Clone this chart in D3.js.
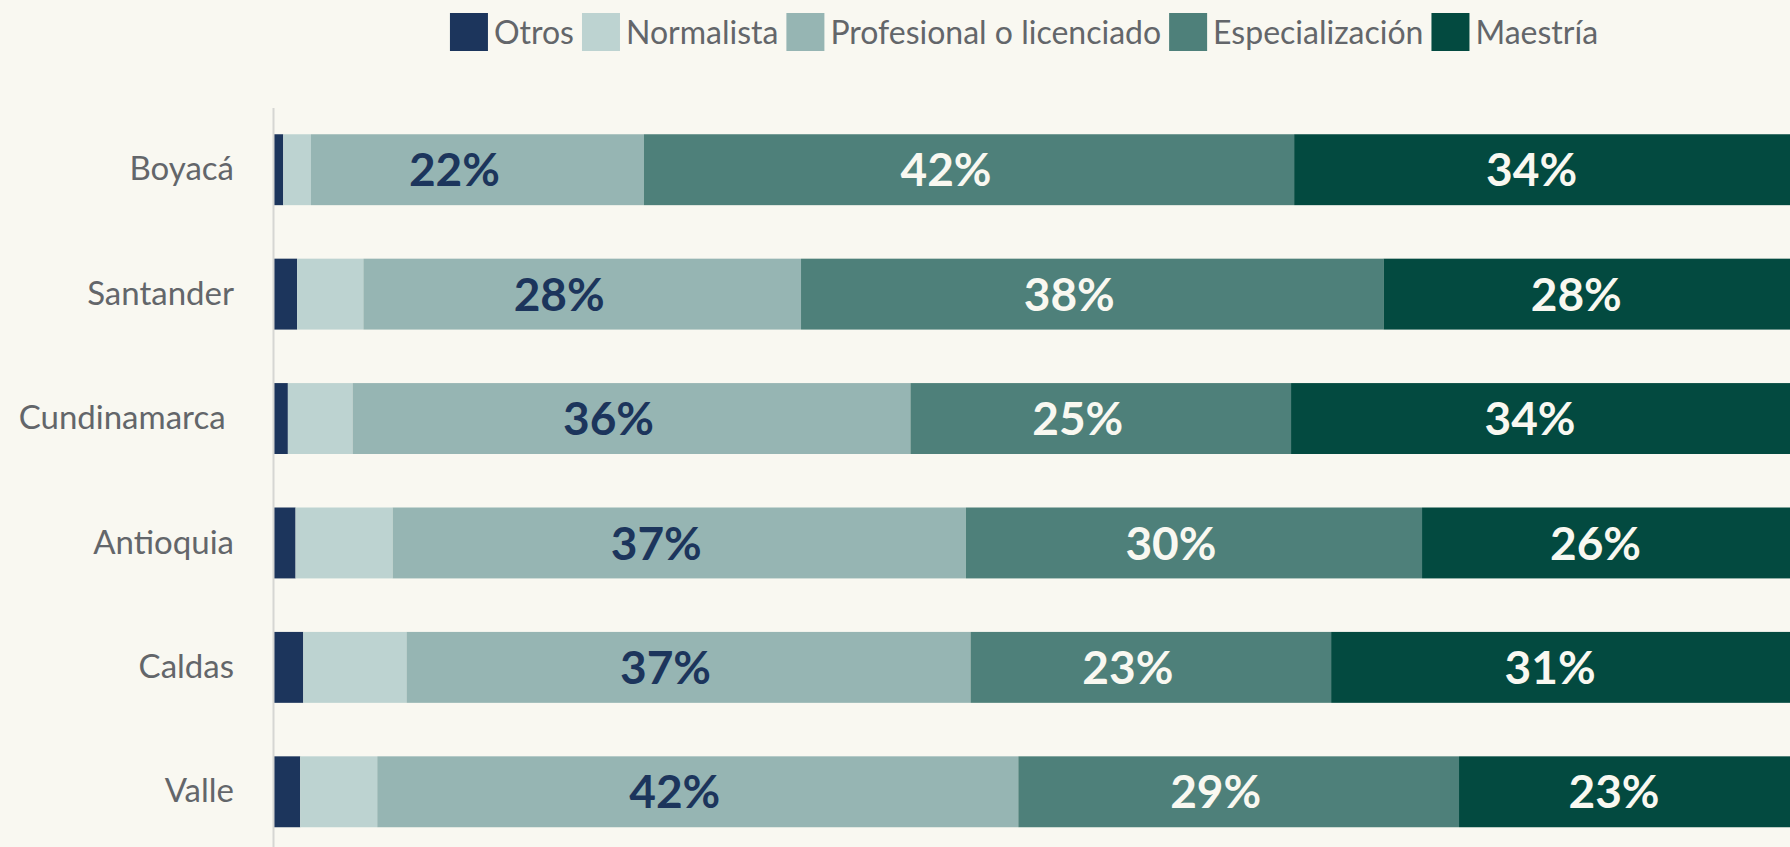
<!DOCTYPE html>
<html>
<head>
<meta charset="utf-8">
<script src="https://cdn.jsdelivr.net/npm/d3@7"></script>
<style>
  html, body { margin: 0; padding: 0; background: #f9f8f1; }
  svg { display: block; font-family: Lato, "Open Sans", sans-serif; }
</style>
</head>
<body>
<div id="chart"></div>
<script>
var categories = ["Boyacá", "Santander", "Cundinamarca ", "Antioquia", "Caldas", "Valle"];
var seriesNames = ["Otros", "Normalista", "Profesional o licenciado", "Especialización", "Maestría"];

// percentages per department
var otros           = [0.6, 1.5, 0.9, 1.4, 1.9, 1.7];
var normalista      = [1.8, 4.3, 4.2, 6.3, 6.7, 5.0];
var profesional     = [21.6, 28.4, 36.2, 37.2, 36.6, 41.6];
var especializacion = [42.2, 37.8, 24.7, 29.6, 23.4, 28.6];
var maestria        = [33.8, 28.0, 34.0, 25.5, 31.4, 23.1];

var colors      = ["#1c355c", "#bdd3d1", "#96b5b3", "#4e807a", "#034a40"];
var labelColors = [null, null, "#1c355c", "#f9f8f1", "#f9f8f1"];

var w = 1790,
    h = 847;

var rows = categories.map(function(c, i) {
  return {
    cat: c,
    "Otros": otros[i],
    "Normalista": normalista[i],
    "Profesional o licenciado": profesional[i],
    "Especialización": especializacion[i],
    "Maestría": maestria[i]
  };
});

var stacked = d3.stack().keys(seriesNames)(rows);

var x = d3.scaleLinear().domain([0, 100]).range([274, 1815]);
var y = d3.scaleBand()
          .domain(categories)
          .range([107.5, 854])
          .paddingInner(0.43)
          .paddingOuter(0.215);

var svg = d3.select("#chart")
            .append("svg")
            .attr("width", w)
            .attr("height", h);

svg.append("rect")
   .attr("width", w)
   .attr("height", h)
   .attr("fill", "#f9f8f1");

// bars
var layers = svg.selectAll("g.layer")
                .data(stacked)
                .enter()
                .append("g")
                .attr("class", "layer")
                .attr("fill", function(d, i) { return colors[i]; });

layers.selectAll("rect")
      .data(function(d) { return d; })
      .enter()
      .append("rect")
      .attr("x", function(d) { return x(d[0]); })
      .attr("y", function(d) { return y(d.data.cat); })
      .attr("width", function(d) { return x(d[1]) - x(d[0]); })
      .attr("height", y.bandwidth());

// value labels (labels sit a bit left of the segment centre in the original)
var labelShift = -23;
var fmt = d3.format(".0f");

layers.filter(function(d, i) { return labelColors[i] !== null; })
      .selectAll("text")
      .data(function(d) { return d; })
      .enter()
      .append("text")
      .attr("x", function(d) { return (x(d[0]) + x(d[1])) / 2 + labelShift; })
      .attr("y", function(d) { return y(d.data.cat) + y.bandwidth() / 2; })
      .attr("dy", "0.36em")
      .attr("text-anchor", "middle")
      .style("font-size", "46px")
      .style("font-weight", 700)
      .style("fill", function() {
          var k = d3.select(this.parentNode).datum().index;
          return labelColors[k];
      })
      .text(function(d) { return fmt(d[1] - d[0]) + "%"; });

// category axis
var axis = svg.append("g")
              .attr("transform", "translate(273,0)")
              .call(d3.axisLeft(y).tickSize(0).tickSizeOuter(0).tickPadding(39));

axis.select(".domain")
    .attr("stroke", "#d6d6d3")
    .attr("stroke-width", 2);

axis.selectAll(".tick text")
    .style("font-family", "Lato, 'Open Sans', sans-serif")
    .style("font-size", "33px")
    .style("fill", "#63666a")
    .style("white-space", "pre");

// legend
var legend = svg.append("g");
var lx = 0;
seriesNames.forEach(function(name, i) {
  var item = legend.append("g").attr("transform", "translate(" + lx + ",0)");
  item.append("rect")
      .attr("x", 0)
      .attr("y", 13)
      .attr("width", 38)
      .attr("height", 38)
      .attr("fill", colors[i]);
  var t = item.append("text")
      .attr("x", 44)
      .attr("y", 32)
      .attr("dy", "0.36em")
      .style("font-size", "32px")
      .style("fill", "#63666a")
      .text(name);
  lx += 44 + t.node().getComputedTextLength() + 8;
});
legend.attr("transform", "translate(" + (1024 - (lx - 8) / 2) + ",0)");
</script>
</body>
</html>
